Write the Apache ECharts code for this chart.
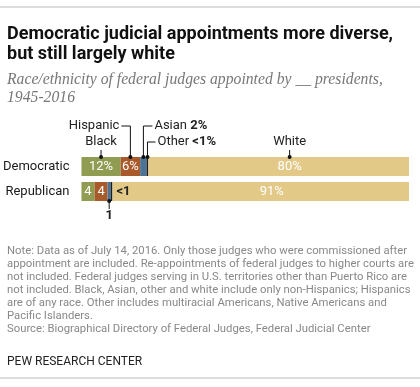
<!DOCTYPE html>
<html><head><meta charset="utf-8">
<script src="https://cdn.jsdelivr.net/npm/echarts@6/dist/echarts.min.js"></script>
<style>html,body{margin:0;padding:0;background:#fff}#c{width:420px;height:387px}</style>
</head><body><div id="c"></div>
<script>
const categories = ['Democratic', 'Republican'];
const black = [12, 4];
const hispanic = [6, 4];
const asian = [2, 1];
const other = [0.5, 0.5];
const white = [80, 91];
const blackLabels = ['12%', '4'];
const hispanicLabels = ['6%', '4'];
const whiteLabels = ['80%', '91%'];
const otherLabels = ['', '<1'];

const colors = { black: '#8f9c51', hispanic: '#a85a2b', asian: '#4c7394', other: '#1c1c1c', white: '#e3c987' };
const total = Math.max(...categories.map((c, i) => black[i] + hispanic[i] + asian[i] + other[i] + white[i]));

const chart = echarts.init(document.getElementById('c'), null, { renderer: 'canvas' });
const sans = 'Roboto, "Liberation Sans", sans-serif';
const inLabel = (labels, extra) => Object.assign({
  show: true, position: 'inside', color: '#fff', fontSize: 13, fontFamily: sans,
  formatter: p => labels[p.dataIndex]
}, extra || {});

const noteText = [
  'Note: Data as of July 14, 2016. Only those judges who were commissioned after',
  'appointment are included. Re-appointments of federal judges to higher courts are',
  'not included. Federal judges serving in U.S. territories other than Puerto Rico are',
  'not included. Black, Asian, other and white include only non-Hispanics; Hispanics',
  'are of any race. Other includes multiracial Americans, Native Americans and',
  'Pacific Islanders.',
  'Source: Biographical Directory of Federal Judges, Federal Judicial Center'
].join('\n');

chart.setOption({
  animation: false,
  title: [
    { text: 'Democratic judicial appointments more diverse,\nbut still largely white', left: 2, top: 19,
      textStyle: { fontFamily: sans, fontWeight: 'bold', fontSize: 18, lineHeight: 20, color: '#111' } },
    { text: 'Race/ethnicity of federal judges appointed by __ presidents,\n1945-2016', left: 2, top: 66,
      textStyle: { fontFamily: '"Liberation Serif", serif', fontStyle: 'italic', fontWeight: 'normal', fontSize: 15.7, lineHeight: 18, color: '#777' } },
    { text: noteText, left: 2, top: 240,
      textStyle: { fontFamily: sans, fontWeight: 'normal', fontSize: 11.3, lineHeight: 13, color: '#888' } },
    { text: 'PEW RESEARCH CENTER', left: 2, top: 351,
      textStyle: { fontFamily: sans, fontWeight: 'normal', fontSize: 12, color: '#222' } }
  ],
  grid: { left: 78, right: 11, top: 154, height: 50 },
  xAxis: { type: 'value', min: 0, max: total, show: false },
  yAxis: { type: 'category', data: categories, inverse: true,
    axisLine: { show: false }, axisTick: { show: false },
    axisLabel: { fontFamily: sans, fontSize: 13, color: '#1a1a1a', margin: 12 } },
  series: [
    { name: 'Black', type: 'bar', stack: 'a', barWidth: 19, data: black, itemStyle: { color: colors.black }, label: inLabel(blackLabels) },
    { name: 'Hispanic', type: 'bar', stack: 'a', barWidth: 19, data: hispanic, itemStyle: { color: colors.hispanic }, label: inLabel(hispanicLabels) },
    { name: 'Asian', type: 'bar', stack: 'a', barWidth: 19, data: asian, itemStyle: { color: colors.asian } },
    { name: 'Other', type: 'bar', stack: 'a', barWidth: 19, data: other, itemStyle: { color: colors.other },
      label: { show: true, position: 'right', distance: 4, color: '#222', fontWeight: 'bold', fontSize: 13, fontFamily: sans,
        formatter: p => otherLabels[p.dataIndex] } },
    { name: 'White', type: 'bar', stack: 'a', barWidth: 19, data: white, itemStyle: { color: colors.white },
      label: inLabel(whiteLabels, { offset: [11, 0] }) }
  ]
});

// annotations anchored to data positions
const px = (v, c) => chart.convertToPixel({ gridIndex: 0 }, [v, c]);
const half = 9.5;
const g = [];
const dot = (x, y) => g.push({ type: 'circle', shape: { cx: x, cy: y, r: 2 }, style: { fill: '#111' }, z: 100 });
const poly = pts => g.push({ type: 'polyline', shape: { points: pts }, style: { stroke: '#111', lineWidth: 1, fill: null }, z: 100 });
const txt = (x, y, t, align, rich) => g.push({ type: 'text', x: x, y: y, z: 100,
  style: { text: t, align: align, verticalAlign: 'middle', fontFamily: sans, fontSize: 13, fill: '#222', rich: rich } });
const richB = { b: { fontWeight: 'bold', fontFamily: sans, fontSize: 13, fill: '#222' } };

const d = 0;
let s = 0;
// Black
let p = px(s + black[d] / 2, d); const barTop = p[1] - half;
poly([[p[0], barTop], [p[0], barTop - 7]]); dot(p[0], barTop); txt(p[0], 142, 'Black', 'center');
s += black[d];
// Hispanic
p = px(s + hispanic[d] / 2, d);
poly([[p[0], barTop], [p[0], 126], [p[0] - 9, 126]]); dot(p[0], barTop); txt(p[0] - 11, 126, 'Hispanic', 'right');
s += hispanic[d];
// Asian
p = px(s + asian[d] / 2, d);
poly([[p[0], barTop], [p[0], 126], [p[0] + 9, 126]]); dot(p[0], barTop); txt(p[0] + 11, 126, 'Asian {b|' + asian[d] + '%}', 'left', richB);
s += asian[d];
// Other
p = px(s + other[d] / 2, d);
poly([[p[0], barTop], [p[0], 142], [p[0] + 8, 142]]); dot(p[0], barTop); txt(p[0] + 10, 142, 'Other {b|<1%}', 'left', richB);
s += other[d];
// White
p = px(s + white[d] / 2, d);
const wx = p[0] + 11;
poly([[wx, barTop], [wx, barTop - 7]]); dot(wx, barTop); txt(wx, 142, 'White', 'center');
// Republican Asian
const r = 1;
p = px(black[r] + hispanic[r] + asian[r] / 2, r);
const bot = p[1] + half;
poly([[p[0], bot], [p[0], bot + 8]]); dot(p[0], bot);
g.push({ type: 'text', x: p[0], y: 216, z: 100, style: { text: String(asian[r]), align: 'center', verticalAlign: 'middle', fontFamily: sans, fontSize: 13, fontWeight: 'bold', fill: '#222' } });

// rules
g.push({ type: 'line', shape: { x1: 0, y1: 7, x2: 420, y2: 7 }, style: { stroke: '#bbb', lineWidth: 1 } });
g.push({ type: 'line', shape: { x1: 0, y1: 378, x2: 420, y2: 378 }, style: { stroke: '#bbb', lineWidth: 1 } });

chart.setOption({ graphic: g });
</script>
</body></html>
